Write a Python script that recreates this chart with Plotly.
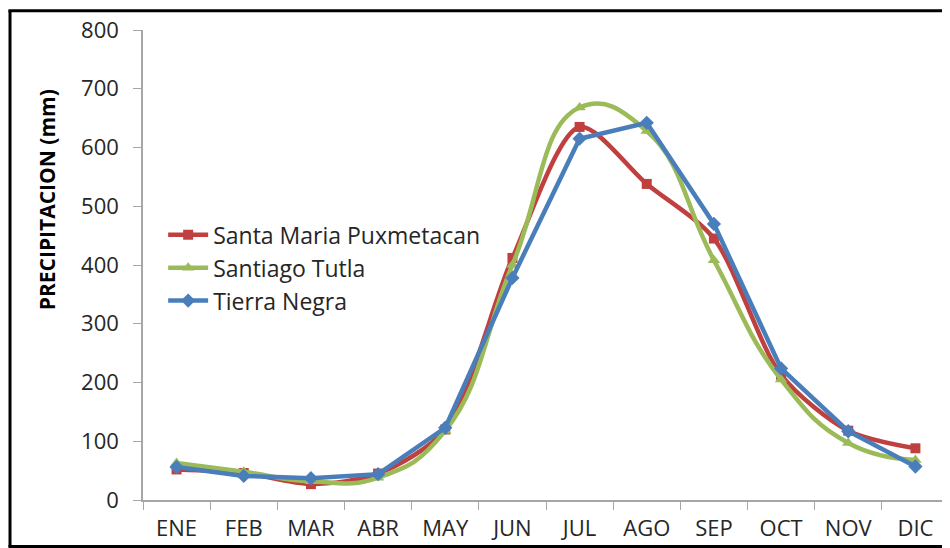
import plotly.graph_objects as go

months = ["ENE", "FEB", "MAR", "ABR", "MAY", "JUN", "JUL", "AGO", "SEP", "OCT", "NOV", "DIC"]
santa_maria = [52, 46, 27, 45, 120, 412, 635, 538, 445, 213, 118, 88]
santiago_tutla = [63, 48, 32, 38, 118, 400, 668, 628, 408, 205, 97, 68]
tierra_negra = [56, 41, 37, 44, 123, 378, 615, 642, 470, 224, 117, 57]
y_ticks = [0, 100, 200, 300, 400, 500, 600, 700, 800]

FONT = "Open Sans, sans-serif"

fig = go.Figure()
fig.add_trace(go.Scatter(
    x=months, y=santa_maria, name="Santa Maria Puxmetacan", mode="lines+markers",
    line=dict(color="#C0403F", width=4.5, shape="spline", smoothing=0.8),
    marker=dict(symbol="square", size=10, color="#C0403F")))
fig.add_trace(go.Scatter(
    x=months, y=santiago_tutla, name="Santiago Tutla", mode="lines+markers",
    line=dict(color="#9BBB59", width=4.5, shape="spline", smoothing=1.3),
    marker=dict(symbol="triangle-up", size=11, color="#9BBB59")))
fig.add_trace(go.Scatter(
    x=months, y=tierra_negra, name="Tierra Negra", mode="lines+markers",
    line=dict(color="#4A7EBB", width=4.5),
    marker=dict(symbol="diamond", size=11, color="#4A7EBB")))

border = dict(color="black", width=3)
fig.update_layout(
    width=942, height=540,
    margin=dict(l=135, r=1, t=22, b=48),
    paper_bgcolor="white", plot_bgcolor="white",
    font=dict(family=FONT, size=22, color="#404040"),
    showlegend=True,
    legend=dict(x=0.025, y=0.61, xanchor="left", yanchor="top",
                bgcolor="rgba(0,0,0,0)", font=dict(size=23, color="#262626"),
                tracegroupgap=0, itemwidth=40),
    xaxis=dict(type="category", range=[-0.5, 11.5], showgrid=False, showline=True,
               linecolor="#A6A6A6", linewidth=1.5, ticks="outside", ticklen=8,
               tickcolor="#A6A6A6", tickson="boundaries", ticklabelstandoff=8,
               tickfont=dict(size=22, color="#262626")),
    yaxis=dict(range=[0, 800], tickvals=y_ticks, showgrid=False, showline=True,
               linecolor="#A6A6A6", linewidth=1.5, ticks="outside", ticklen=8,
               tickcolor="#A6A6A6", zeroline=False, ticklabelstandoff=10,
               tickfont=dict(size=22, color="#262626")),
    annotations=[dict(text="<b>PRECIPITACION (mm)</b>", textangle=-90, xref="paper", yref="paper",
                      x=-0.119, y=0.638, xanchor="center", yanchor="middle", showarrow=False,
                      font=dict(family="Open Sans, sans-serif", size=21, color="black"))],
    shapes=[
        dict(type="line", xref="paper", yref="paper", x0=-0.165, x1=-0.165, y0=-0.099, y1=1.041, line=border),
        dict(type="line", xref="paper", yref="paper", x0=-0.167, x1=1.2, y0=1.041, y1=1.041, line=border),
        dict(type="line", xref="paper", yref="paper", x0=-0.167, x1=1.2, y0=-0.099, y1=-0.099, line=border),
    ],
)

fig.write_html("out.html")
